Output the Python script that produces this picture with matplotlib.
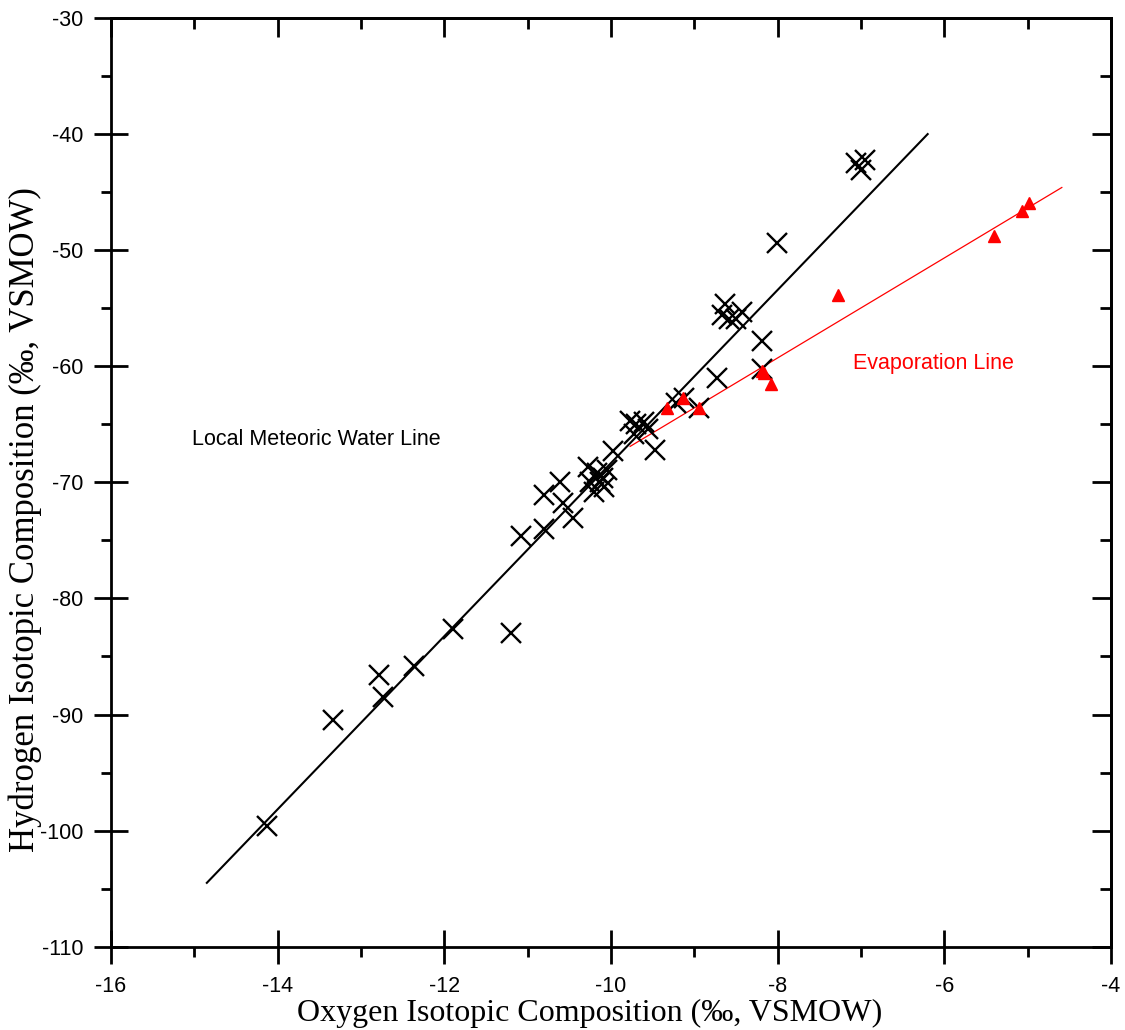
import matplotlib
matplotlib.use("Agg")
import matplotlib.pyplot as plt
from matplotlib.ticker import MultipleLocator

plt.rcParams["axes.unicode_minus"] = False

# ---- data ----
x_samples = [-14.13, -13.34, -12.79, -12.74, -12.37, -11.89, -11.20, -11.08, -10.80, -10.80,
             -10.61, -10.58, -10.46, -10.28, -10.25, -10.20, -10.17, -10.13, -10.10, -10.05,
             -10.08, -9.98, -9.77, -9.70, -9.72, -9.60, -9.47, -9.55, -9.22, -9.12,
             -8.95, -8.73, -8.19, -8.19, -8.63, -8.67, -8.58, -8.43, -8.50, -8.01,
             -7.06, -7.00, -6.95]
y_samples = [-99.6, -90.5, -86.6, -88.5, -85.8, -82.6, -83.0, -74.6, -74.0, -71.1,
             -70.0, -71.8, -73.1, -68.7, -70.0, -70.8, -69.2, -70.0, -69.6, -68.9,
             -70.4, -67.3, -64.7, -65.0, -65.8, -64.8, -67.2, -65.4, -63.2, -62.7,
             -63.6, -61.0, -60.2, -57.8, -54.6, -55.6, -55.9, -55.3, -55.9, -49.4,
             -42.5, -43.1, -42.2]

x_evap = [-9.33, -9.13, -8.94, -8.19, -8.16, -8.08, -7.28, -5.41, -5.07, -4.98]
y_evap = [-63.6, -62.7, -63.6, -60.4, -60.6, -61.5, -53.9, -48.8, -46.6, -45.9]

lmwl_x = [-14.85, -6.2]
lmwl_y = [-104.5, -40.0]
evap_line_x = [-9.77, -4.59]
evap_line_y = [-66.9, -44.6]

x_ticks = [-16, -14, -12, -10, -8, -6, -4]
y_ticks = [-110, -100, -90, -80, -70, -60, -50, -40, -30]

W, H = 1125, 1030
fig = plt.figure(figsize=(W / 100, H / 100), dpi=100)
left, right, top, bottom = 111 / W, 1111 / W, 1 - 18 / H, 1 - 946.7 / H
ax = fig.add_axes([left, bottom, right - left, top - bottom])

sans = ["Liberation Sans", "DejaVu Sans"]
serif = ["Liberation Serif", "DejaVu Serif"]

ax.plot(lmwl_x, lmwl_y, color="black", lw=1.5, zorder=2)
ax.plot(evap_line_x, evap_line_y, color="red", lw=0.9, zorder=2)
ax.plot(x_samples, y_samples, ls="none", marker="x", ms=14.5, mew=1.7, color="black", zorder=3)
ax.plot(x_evap, y_evap, ls="none", marker="^", ms=9, color="red", mec="red", zorder=4)

ax.set_xlim(-16, -4)
ax.set_ylim(-110, -30)
ax.set_xticks(x_ticks)
ax.set_yticks(y_ticks)
ax.xaxis.set_minor_locator(MultipleLocator(1))
ax.yaxis.set_minor_locator(MultipleLocator(5))

for s in ax.spines.values():
    s.set_linewidth(2.0)

ax.tick_params(which="major", direction="inout", length=24, width=2.0,
               labelsize=15.5, top=False, right=False)
ax.tick_params(which="minor", direction="out", length=7, width=2.0, top=False, right=False)
ax.tick_params(axis="y", which="major", pad=8)
ax.tick_params(axis="x", which="major", pad=9)
for lab in ax.get_xticklabels() + ax.get_yticklabels():
    lab.set_family(sans)

# opposite sides: inward ticks, no labels
secx = ax.secondary_xaxis("top")
secx.set_xticks(x_ticks)
secx.xaxis.set_minor_locator(MultipleLocator(1))
secx.tick_params(which="major", direction="in", length=14, width=2.0, labeltop=False)
secx.tick_params(which="minor", direction="in", length=8, width=2.0)
secy = ax.secondary_yaxis("right")
secy.set_yticks(y_ticks)
secy.yaxis.set_minor_locator(MultipleLocator(5))
secy.tick_params(which="major", direction="in", length=14, width=2.0, labelright=False)
secy.tick_params(which="minor", direction="in", length=8, width=2.0)
for s in list(secx.spines.values()) + list(secy.spines.values()):
    s.set_linewidth(2.0)

ax.set_xlabel("Oxygen Isotopic Composition (‰, VSMOW)", fontsize=23, family=serif)
ax.set_ylabel("Hydrogen Isotopic Composition (‰, VSMOW)", fontsize=25, family=serif)
ax.xaxis.set_label_coords(0.479, -0.056)
ax.yaxis.set_label_coords(-0.069, 0.46)

ax.text(-15.03, -66.35, "Local Meteoric Water Line", fontsize=15.5, family=sans,
        ha="left", va="center", color="black")
ax.text(-7.10, -59.8, "Evaporation Line", fontsize=15.5, family=sans,
        ha="left", va="center", color="red")

fig.savefig("out.png", dpi=100)
